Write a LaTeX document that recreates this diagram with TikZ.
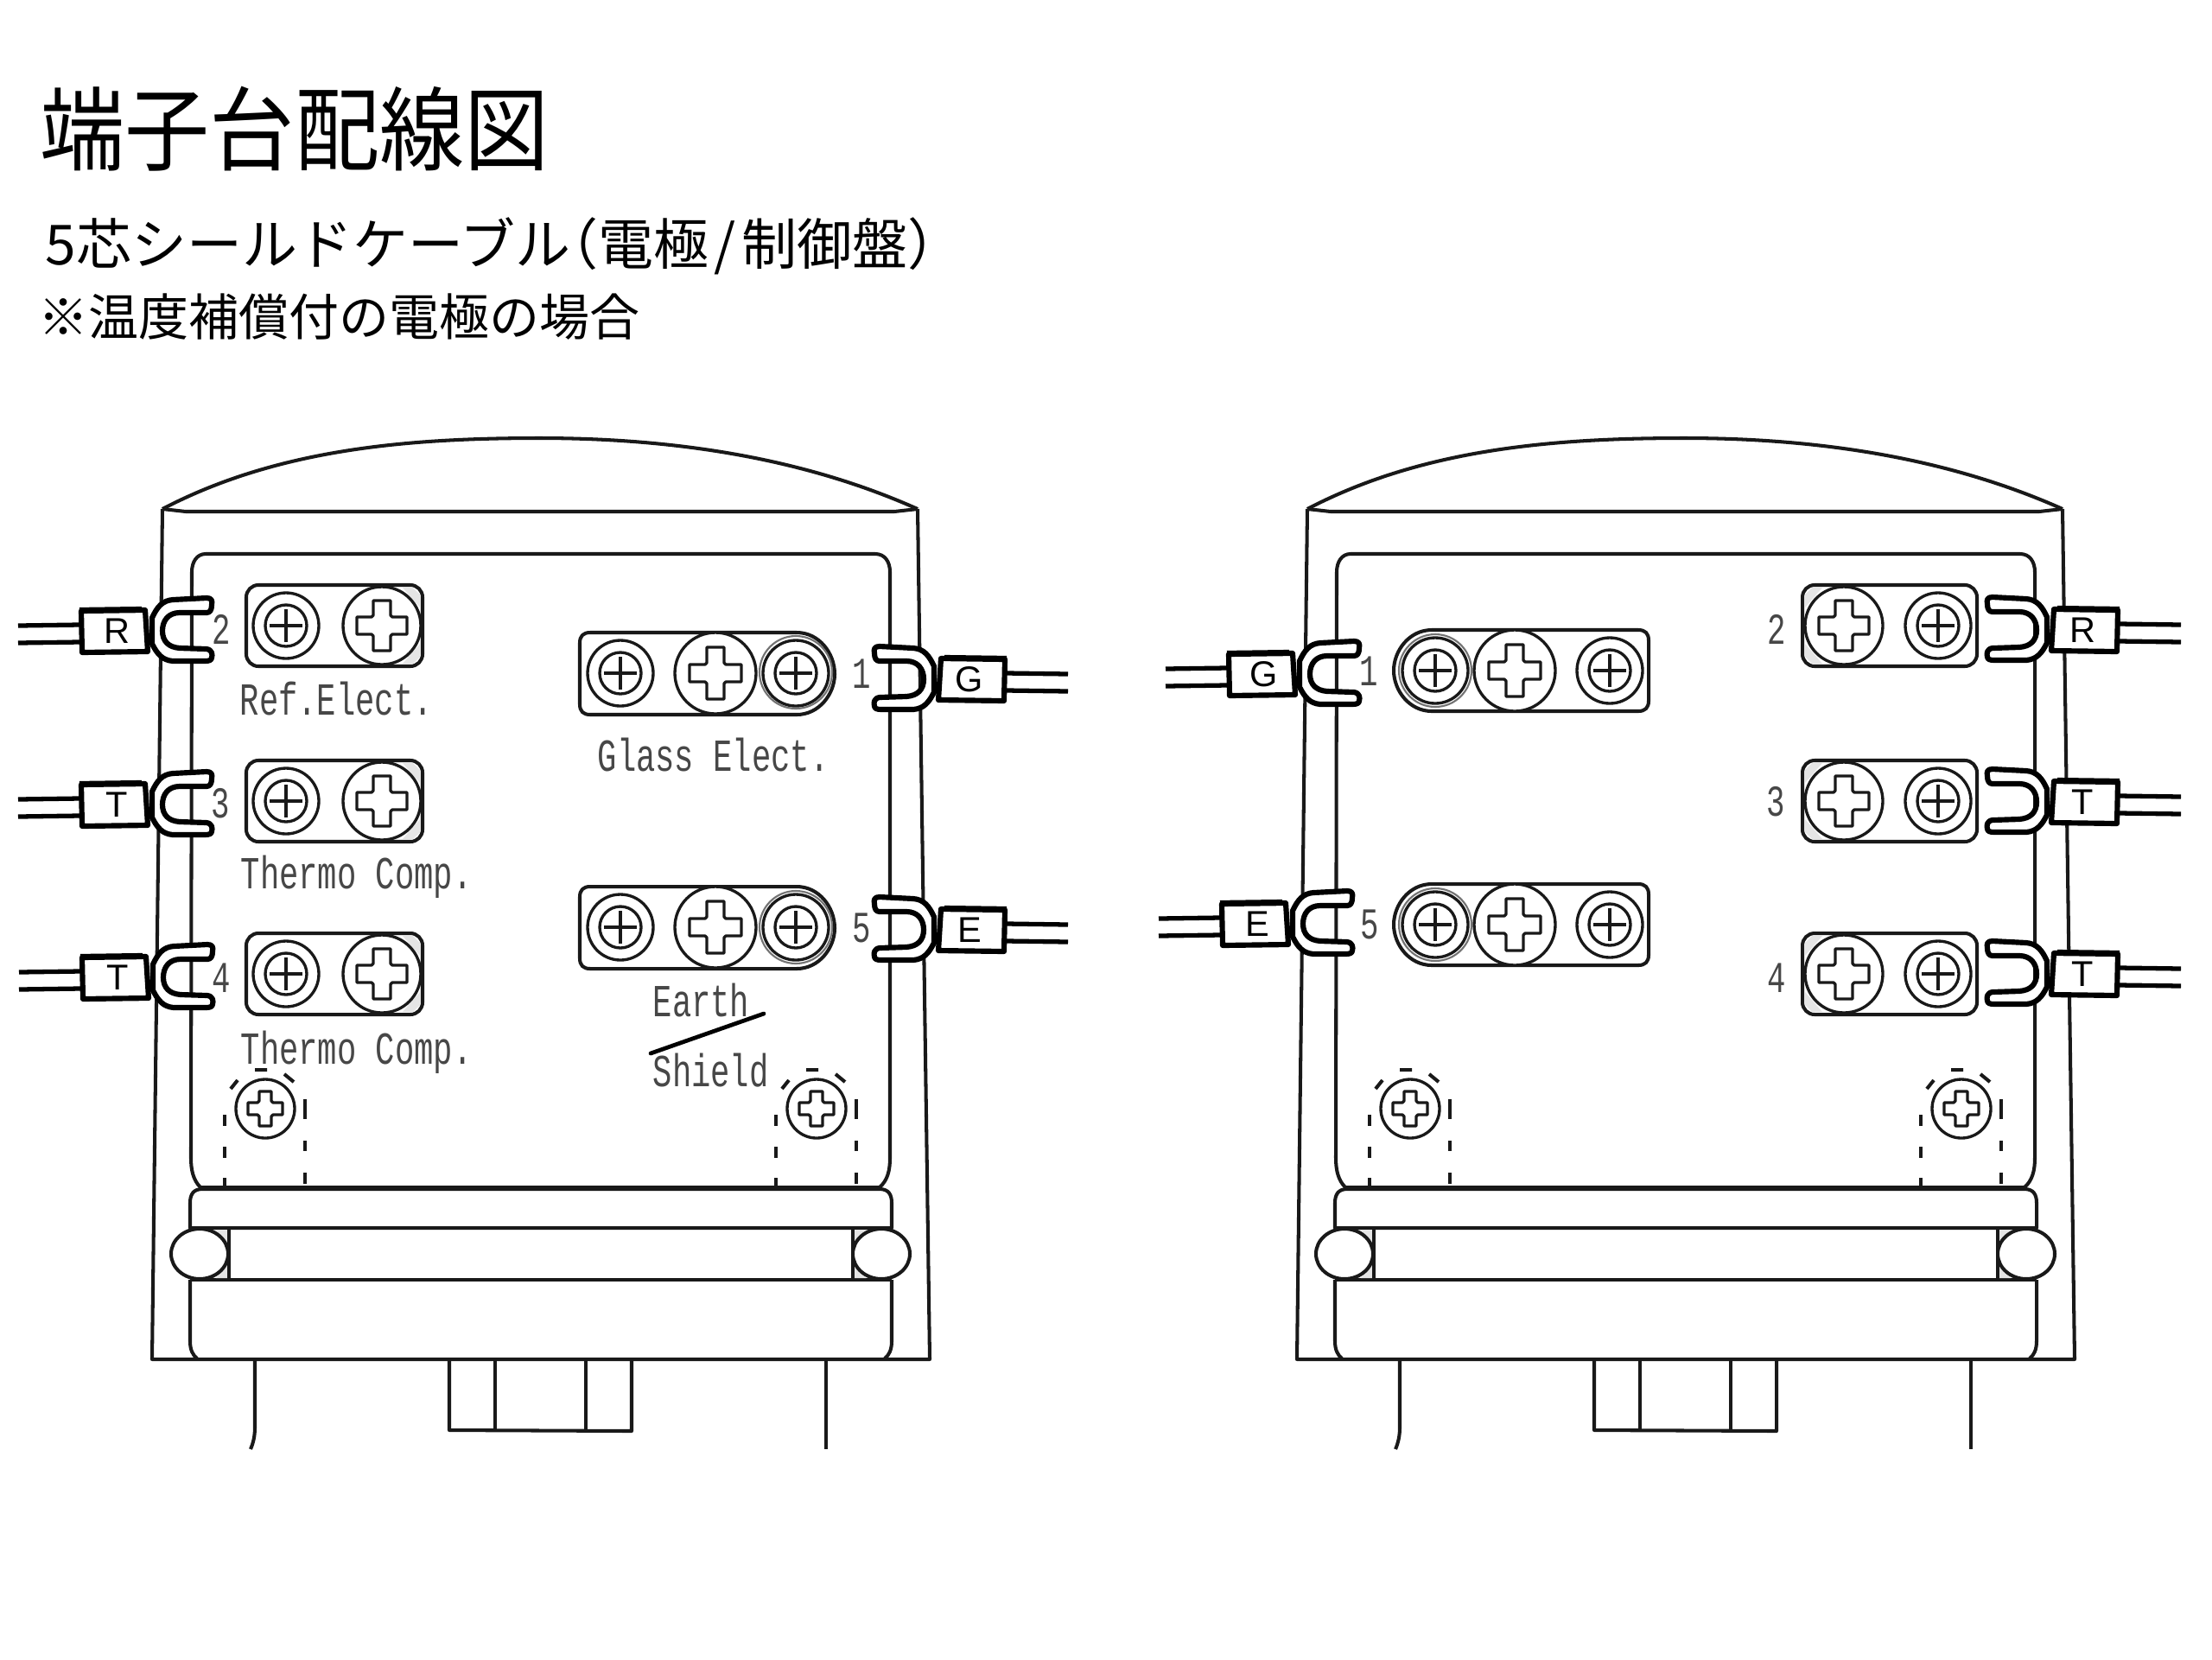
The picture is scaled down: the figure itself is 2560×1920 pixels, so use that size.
\documentclass[tikz,border=0pt]{standalone}
\usepackage{fontspec}
\newfontfamily\cjk{Noto Sans CJK JP}
\newfontfamily\platefont[FakeStretch=0.7]{Liberation Mono}
\newfontfamily\lugfont{Liberation Sans}
\tikzset{
  bodyline/.style={line width=1.15pt,draw=black!90,line join=round},
  screwline/.style={line width=0.95pt,draw=black!90,fill=white},
  dashline/.style={line width=1.15pt,draw=black!90},
  forkline/.style={line width=1.75pt,draw=black,fill=white,line join=round},
  wireline/.style={line width=1.5pt,draw=black},
  lugtext/.style={inner sep=0pt,font=\lugfont\fontsize{11.8}{12}\selectfont},
  platetext/.style={inner sep=0pt,anchor=base west,text=black!72,font=\platefont\fontsize{15.1}{16}\selectfont},
  digittext/.style={inner sep=0pt,text=black!72,font=\platefont\fontsize{14.5}{15}\selectfont},
  wedge/.style={fill=black!10,draw=none},
}
\newcommand{\smallscrew}[2]{%
  \draw[screwline] (#1,#2) circle (38);
  \draw[screwline] (#1,#2) circle (24);
  \draw[screwline] (#1-19,#2) -- (#1+19,#2) (#1,#2-19) -- (#1,#2+19);
}
\newcommand{\crossmark}[5]{% x y radius halflength halfwidth
  \draw[screwline] (#1,#2) circle (#3);
  \draw[screwline,line join=round] (#1-#5,#2-#4) -- (#1+#5,#2-#4) -- (#1+#5,#2-#5-2) -- (#1+#5+2,#2-#5)
    -- (#1+#4,#2-#5) -- (#1+#4,#2+#5) -- (#1+#5+2,#2+#5) -- (#1+#5,#2+#5+2)
    -- (#1+#5,#2+#4) -- (#1-#5,#2+#4) -- (#1-#5,#2+#5+2) -- (#1-#5-2,#2+#5)
    -- (#1-#4,#2+#5) -- (#1-#4,#2-#5) -- (#1-#5-2,#2-#5) -- (#1-#5,#2-#5-2) -- cycle;
}
% short plate: x-left y-top x-right y-bottom
\newcommand{\shortplate}[4]{%
  \draw[bodyline,fill=white,rounded corners=4pt] (#1,#2) rectangle (#3,#4);
}
% long plate with a round right end
\newcommand{\roundright}[4]{%
  \draw[bodyline,fill=white] (#1,#2+12) .. controls (#1,#2+4) and (#1+4,#2) .. (#1+12,#2)
    -- (#3-44,#2) .. controls (#3-18,#2) and (#3,#2+24) .. (#3,#2+48)
    .. controls (#3,#4-24) and (#3-18,#4) .. (#3-44,#4)
    -- (#1+12,#4) .. controls (#1+4,#4) and (#1,#4-4) .. (#1,#4-12) -- cycle;
}
\newcommand{\roundleft}[4]{%
  \draw[bodyline,fill=white] (#3,#2+12) .. controls (#3,#2+4) and (#3-4,#2) .. (#3-12,#2)
    -- (#1+44,#2) .. controls (#1+18,#2) and (#1,#2+24) .. (#1,#2+47)
    .. controls (#1,#4-24) and (#1+18,#4) .. (#1+44,#4)
    -- (#3-12,#4) .. controls (#3-4,#4) and (#3,#4-4) .. (#3,#4-12) -- cycle;
}
% fork lug: name x y direction letter
\newcommand{\forklug}[5]{%
  \begin{scope}[shift={(#2,#3)},xscale=#4]
    \coordinate (#1a) at (-78,-5);
    \coordinate (#1b) at (-78,15);
    \coordinate (#1c) at (-149,-4);
    \coordinate (#1d) at (-149,16);
    \draw[wireline] (#1a) -- (#1c);
    \draw[wireline] (#1b) -- (#1d);
    \draw[forkline] (6,-13) .. controls (12,-26) and (18,-33) .. (30,-34)
      -- (69,-36) .. controls (75,-36) and (76,-33) .. (75,-28)
      .. controls (75,-22) and (73,-19) .. (69,-19) -- (38,-19)
      .. controls (25,-19) and (18,-10) .. (18,2)
      .. controls (18,14) and (25,21) .. (38,22) -- (69,23)
      .. controls (76,24) and (76,30) .. (75,33)
      .. controls (75,36) and (72,37) .. (67,37) -- (30,37)
      .. controls (18,36) and (12,29) .. (6,17) -- cycle;
    \draw[forkline] (-76,-21) -- (-2,-22) -- (1,26) -- (-75,27) -- cycle;
    \draw[line width=1.2pt] (-78,-23) -- (-6,-24);
    \node[lugtext] (#1) at (-35,2) {#5};
  \end{scope}
}
\newcommand{\unitbody}[1]{%
  \begin{scope}[shift={(#1,0)}]
    \draw[bodyline] (188,589) .. controls (320,520) and (470,507) .. (624,507)
      .. controls (780,507) and (930,530) .. (1062,589);
    \draw[bodyline] (188,589) -- (176,1573) -- (1076,1573) -- (1062,589);
    \draw[bodyline] (188,589) -- (215,592) -- (1035,592) -- (1062,589);
    \draw[bodyline] (232,1374) .. controls (224,1366) and (221,1355) .. (221,1340)
      -- (222,662) .. controls (222,650) and (228,641) .. (238,641)
      -- (1013,641) .. controls (1024,641) and (1030,650) .. (1030,662)
      -- (1030,1340) .. controls (1030,1355) and (1027,1366) .. (1018,1374) -- cycle;
    \draw[bodyline] (220,1421) -- (220,1392) .. controls (220,1382) and (224,1376) .. (234,1376)
      -- (1018,1376) .. controls (1028,1376) and (1032,1382) .. (1032,1392) -- (1032,1421) -- cycle;
    \draw[bodyline] (220,1481) -- (220,1552) .. controls (220,1562) and (223,1568) .. (228,1572);
    \draw[bodyline] (1032,1481) -- (1032,1552) .. controls (1032,1562) and (1029,1568) .. (1024,1572);
    \draw[bodyline] (220,1481) -- (1032,1481);
    \fill[wedge] (250,1423) -- (263,1423) -- (263,1440) -- cycle;
    \fill[wedge] (250,1479) -- (263,1479) -- (263,1462) -- cycle;
    \fill[wedge] (1002,1423) -- (989,1423) -- (989,1440) -- cycle;
    \fill[wedge] (1002,1479) -- (989,1479) -- (989,1462) -- cycle;
    \draw[bodyline] (265,1421) -- (265,1481) (987,1421) -- (987,1481);
    \draw[bodyline,fill=white] (231,1451) ellipse [x radius=33,y radius=29];
    \draw[bodyline,fill=white] (1020,1451) ellipse [x radius=33,y radius=29];
    \draw[bodyline] (295,1573) -- (295,1652) .. controls (295,1662) and (293,1670) .. (290,1677);
    \draw[bodyline] (956,1573) -- (956,1677);
    \draw[bodyline] (520,1573) -- (520,1655) -- (731,1656) -- (731,1573);
    \draw[bodyline] (573,1573) -- (573,1656) (678,1573) -- (678,1656);
    \crossmark{307}{1283}{34}{20}{7}
    \crossmark{945}{1283}{34}{20}{7}
    \foreach \cx in {307,945} {
      \draw[dashline] (\cx-47,1290) -- (\cx-47,1303) (\cx-47,1327) -- (\cx-47,1340) (\cx-47,1363) -- (\cx-47,1374);
      \draw[dashline] (\cx+46,1272) -- (\cx+46,1295) (\cx+46,1320) -- (\cx+46,1332) (\cx+46,1357) -- (\cx+46,1370);
      \draw[dashline] (\cx-40,1260) -- (\cx-32,1250) (\cx-12,1238) -- (\cx+2,1238) (\cx+22,1243) -- (\cx+33,1252);
    }
  \end{scope}
}
\begin{document}
\begin{tikzpicture}[x=0.01cm,y=-0.01cm]
  \useasboundingbox (0,0) rectangle (2560,1920);
  \fill[white] (0,0) rectangle (2560,1920);
  % headings
  \node[anchor=base west,inner sep=0pt,yscale=1.08,transform shape] (title) at (46,189) {\cjk\fontsize{27.9}{30}\selectfont 端子台配線図};
  \node[anchor=base west,inner sep=0pt] (subtitle) at (52,306) {\cjk\fontsize{18.2}{20}\selectfont 5芯シールドケーブル\hspace{-0.5em}（電極\hspace{0.1em}/\hspace{0.1em}制御盤）};
  \node[anchor=base west,inner sep=0pt] (note) at (44,388) {\cjk\fontsize{16.5}{18}\selectfont ※温度補償付の電極の場合};
  \unitbody{0}
  \unitbody{1325}
  % ---- left unit plates
  \foreach \py in {677,880,1080} {
    \shortplate{285}{\py}{489}{\py+94}
    \fill[wedge] (466,\py+3) -- (478,\py+3) -- (486,\py+11) -- (486,\py+26) -- cycle;
    \fill[wedge] (466,\py+91) -- (478,\py+91) -- (486,\py+83) -- (486,\py+68) -- cycle;
    \crossmark{442}{\py+47}{45}{29}{10}
    \smallscrew{331}{\py+47}
  }
  \roundright{671}{732}{966}{827}
  \draw[line width=0.6pt,black!55] (921,778) circle (42);
  \smallscrew{718}{779}
  \smallscrew{921}{779}
  \crossmark{828}{779}{47}{30}{10}
  \roundright{671}{1026}{966}{1121}
  \draw[line width=0.6pt,black!55] (921,1073) circle (42);
  \smallscrew{718}{1073}
  \smallscrew{921}{1073}
  \crossmark{828}{1073}{47}{30}{10}
  % ---- left unit labels
  \node[digittext] (ln2) at (256,728) {2};
  \node[digittext] (ln3) at (255,930) {3};
  \node[digittext] (ln4) at (256,1132) {4};
  \node[digittext] (ln1) at (997,780) {1};
  \node[digittext] (ln5) at (997,1074) {5};
  \node[platetext] (ref) at (277,827) {Ref.Elect.};
  \node[platetext] (tc1) at (278,1028) {Thermo Comp.};
  \node[platetext] (tc2) at (278,1231) {Thermo Comp.};
  \node[platetext] (glass) at (691,892) {Glass Elect.};
  \node[platetext] (earth) at (755,1176) {Earth};
  \node[platetext] (shield) at (755,1257) {Shield};
  \draw[line width=1.35pt,line cap=round] (753,1219) -- (884,1173);
  % ---- left unit lugs
  \forklug{lr}{170}{728}{1}{R}
  \forklug{lt}{170}{929}{1}{T}
  \forklug{lu}{171}{1129}{1}{T}
  \forklug{lg}{1087}{784}{-1}{G}
  \forklug{le}{1087}{1074}{-1}{E}
  % ---- right unit plates
  \foreach \py in {677,880,1080} {
    \shortplate{2086}{\py}{2288}{\py+94}
    \fill[wedge] (2109,\py+3) -- (2097,\py+3) -- (2089,\py+11) -- (2089,\py+26) -- cycle;
    \fill[wedge] (2109,\py+91) -- (2097,\py+91) -- (2089,\py+83) -- (2089,\py+68) -- cycle;
    \crossmark{2134}{\py+47}{45}{29}{10}
    \smallscrew{2243}{\py+47}
  }
  \roundleft{1613}{729}{1908}{823}
  \draw[line width=0.6pt,black!55] (1661,776) circle (42);
  \smallscrew{1661}{776}
  \smallscrew{1863}{776}
  \crossmark{1753}{776}{47}{30}{10}
  \roundleft{1613}{1023}{1908}{1117}
  \draw[line width=0.6pt,black!55] (1661,1070) circle (42);
  \smallscrew{1661}{1070}
  \smallscrew{1863}{1070}
  \crossmark{1753}{1070}{47}{30}{10}
  % ---- right unit labels
  \node[digittext] (rn1) at (1584,777) {1};
  \node[digittext] (rn5) at (1585,1070) {5};
  \node[digittext] (rn2) at (2056,728) {2};
  \node[digittext] (rn3) at (2055,928) {3};
  \node[digittext] (rn4) at (2056,1132) {4};
  % ---- right unit lugs
  \forklug{rg}{1498}{778}{1}{G}
  \forklug{re}{1490}{1067}{1}{E}
  \forklug{rr}{2375}{727}{-1}{R}
  \forklug{rt}{2375}{926}{-1}{T}
  \forklug{ru}{2375}{1125}{-1}{T}
\end{tikzpicture}
\end{document}
